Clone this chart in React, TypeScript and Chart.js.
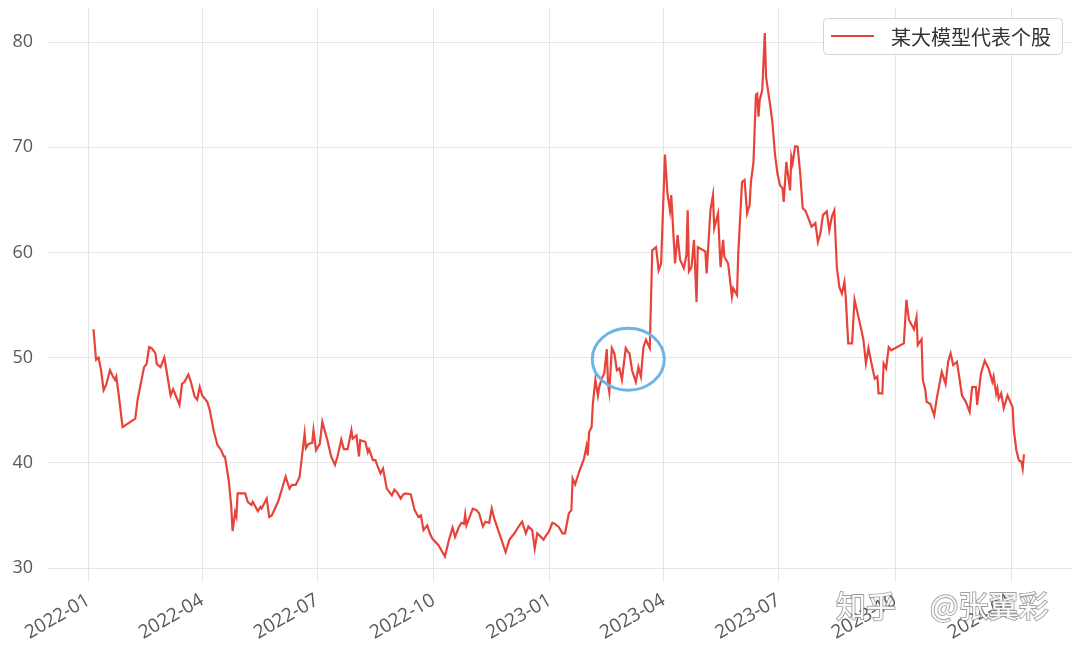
import React, { useEffect, useRef } from 'react';
import { Chart, registerables } from 'chart.js';

Chart.register(...registerables);

const SERIES_NAME = '某大模型代表个股';

const dates: string[] = [
  '2022-01-05','2022-01-07','2022-01-09','2022-01-11','2022-01-13','2022-01-15','2022-01-18','2022-01-20','2022-01-22','2022-01-23','2022-01-25','2022-01-28',
  '2022-02-07','2022-02-09','2022-02-14','2022-02-16','2022-02-18','2022-02-20','2022-02-23','2022-02-24','2022-02-27',
  '2022-03-02','2022-03-03','2022-03-07','2022-03-09','2022-03-14','2022-03-16','2022-03-18','2022-03-21','2022-03-23','2022-03-26','2022-03-28','2022-03-30',
  '2022-04-01','2022-04-05','2022-04-07','2022-04-10','2022-04-13','2022-04-16','2022-04-18','2022-04-19','2022-04-22','2022-04-24','2022-04-25','2022-04-27','2022-04-28','2022-04-29',
  '2022-05-05','2022-05-07','2022-05-10','2022-05-11','2022-05-15','2022-05-17','2022-05-18','2022-05-22','2022-05-24','2022-05-26','2022-05-31',
  '2022-06-06','2022-06-07','2022-06-09','2022-06-11','2022-06-14','2022-06-17','2022-06-21','2022-06-22','2022-06-24','2022-06-27','2022-06-28','2022-06-30',
  '2022-07-03','2022-07-05','2022-07-09','2022-07-12','2022-07-15','2022-07-17','2022-07-20','2022-07-22','2022-07-25','2022-07-28','2022-07-29',
  '2022-08-01','2022-08-03','2022-08-04','2022-08-08','2022-08-10','2022-08-11','2022-08-14','2022-08-16','2022-08-18','2022-08-20','2022-08-22','2022-08-25','2022-08-29','2022-08-31',
  '2022-09-02','2022-09-05','2022-09-07','2022-09-09','2022-09-13','2022-09-16','2022-09-19','2022-09-21','2022-09-23','2022-09-26','2022-09-28','2022-09-30',
  '2022-10-05','2022-10-10','2022-10-13','2022-10-16','2022-10-18','2022-10-21','2022-10-23','2022-10-25','2022-10-26','2022-10-27','2022-10-29',
  '2022-11-01','2022-11-04','2022-11-06','2022-11-09','2022-11-11','2022-11-14','2022-11-16','2022-11-18','2022-11-22','2022-11-27','2022-11-30',
  '2022-12-04','2022-12-07','2022-12-10','2022-12-13','2022-12-15','2022-12-18','2022-12-20','2022-12-22','2022-12-25','2022-12-27','2022-12-29','2022-12-31',
  '2023-01-03','2023-01-05','2023-01-08','2023-01-11','2023-01-13','2023-01-16','2023-01-18','2023-01-19','2023-01-21','2023-01-24','2023-01-28','2023-01-30','2023-01-31',
  '2023-02-01','2023-02-03','2023-02-04','2023-02-06','2023-02-08','2023-02-09','2023-02-11','2023-02-13','2023-02-15','2023-02-16','2023-02-17','2023-02-19','2023-02-21','2023-02-23','2023-02-25','2023-02-27',
  '2023-03-02','2023-03-04','2023-03-05','2023-03-07','2023-03-10','2023-03-12','2023-03-14','2023-03-16','2023-03-18','2023-03-21','2023-03-23','2023-03-26','2023-03-28','2023-03-30',
  '2023-04-02','2023-04-04','2023-04-06','2023-04-07','2023-04-10','2023-04-12','2023-04-14','2023-04-17','2023-04-19','2023-04-20','2023-04-21','2023-04-23','2023-04-25','2023-04-27','2023-04-28',
  '2023-05-04','2023-05-05','2023-05-08','2023-05-10','2023-05-11','2023-05-14','2023-05-16','2023-05-18','2023-05-19','2023-05-22','2023-05-25','2023-05-26','2023-05-29','2023-05-30',
  '2023-06-02','2023-06-04','2023-06-06','2023-06-08','2023-06-09','2023-06-11','2023-06-13','2023-06-14','2023-06-15','2023-06-16','2023-06-18','2023-06-20','2023-06-21','2023-06-24','2023-06-26','2023-06-28','2023-06-30',
  '2023-07-02','2023-07-04','2023-07-05','2023-07-07','2023-07-10','2023-07-11','2023-07-12','2023-07-14','2023-07-16','2023-07-18','2023-07-20','2023-07-22','2023-07-24','2023-07-27','2023-07-30',
  '2023-08-01','2023-08-03','2023-08-05','2023-08-08','2023-08-10','2023-08-12','2023-08-14','2023-08-16','2023-08-18','2023-08-20','2023-08-22','2023-08-23','2023-08-25','2023-08-28','2023-08-30',
  '2023-09-03','2023-09-06','2023-09-08','2023-09-10','2023-09-13','2023-09-15','2023-09-17','2023-09-18','2023-09-21','2023-09-22','2023-09-24','2023-09-26','2023-09-28',
  '2023-10-08','2023-10-10','2023-10-12','2023-10-16','2023-10-18','2023-10-19','2023-10-22','2023-10-23','2023-10-25','2023-10-26','2023-10-29',
  '2023-11-01','2023-11-03','2023-11-07','2023-11-10','2023-11-12','2023-11-14','2023-11-16','2023-11-19','2023-11-23','2023-11-26','2023-11-29',
  '2023-12-01','2023-12-04','2023-12-05','2023-12-08','2023-12-11','2023-12-14','2023-12-17','2023-12-18','2023-12-20','2023-12-21','2023-12-22','2023-12-24','2023-12-26','2023-12-29',
  '2024-01-02','2024-01-03','2024-01-05','2024-01-07','2024-01-09','2024-01-10','2024-01-11',
];

const prices: number[] = [
  52.7, 49.8, 50.0, 48.8, 46.9, 47.4, 48.8, 48.3, 47.9, 48.2, 46.4, 43.4,
  44.2, 46.1, 49.1, 49.4, 51.0, 50.9, 50.4, 49.4, 49.1,
  50.0, 49.3, 46.4, 47.0, 45.5, 47.5, 47.7, 48.4, 47.7, 46.3, 46.0, 47.2,
  46.4, 45.8, 45.0, 43.1, 41.7, 41.2, 40.6, 40.6, 38.3, 35.8, 33.5, 35.3, 34.9, 37.1,
  37.1, 36.3, 36.0, 36.3, 35.4, 35.8, 35.65, 36.6, 34.85, 35.0, 36.3,
  38.7, 38.3, 37.55, 37.9, 37.9, 38.65, 42.8, 41.4, 41.8, 41.9, 43.1, 41.2,
  41.8, 43.9, 42.15, 40.6, 39.8, 40.6, 42.2, 41.3, 41.3, 43.1, 42.3,
  42.6, 40.6, 42.15, 42.0, 41.0, 41.3, 40.25, 40.25, 39.6, 39.0, 39.45, 37.55, 36.9, 37.45,
  37.2, 36.6, 37.0, 37.1, 37.0, 35.5, 34.85, 35.0, 33.6, 34.05, 33.3, 32.8,
  32.15, 31.1, 32.6, 33.85, 32.95, 33.9, 34.3, 34.2, 35.1, 34.05, 34.7,
  35.65, 35.5, 35.2, 33.95, 34.4, 34.3, 35.65, 34.7, 33.3, 31.5, 32.7,
  33.3, 33.9, 34.4, 33.3, 33.95, 33.6, 31.85, 33.3, 32.95, 32.7, 33.1, 33.4,
  34.3, 34.2, 33.9, 33.3, 33.3, 35.2, 35.5, 38.5, 37.95, 39.1, 40.4, 41.6, 40.7,
  42.9, 43.4, 45.6, 47.9, 46.4, 47.2, 48.0, 48.5, 50.8, 47.5, 46.7, 50.9, 50.4, 48.8, 48.97, 47.9,
  50.9, 50.5, 50.4, 48.8, 47.7, 49.1, 48.2, 51.0, 51.7, 50.9, 60.2, 60.5, 58.3, 58.95,
  69.3, 65.6, 64.0, 65.45, 58.95, 61.65, 59.3, 58.5, 59.75, 64.0, 58.2, 58.6, 61.2, 55.3, 60.5,
  60.1, 58.0, 64.0, 65.45, 62.3, 63.7, 58.6, 61.2, 59.6, 58.95, 55.8, 56.6, 55.95, 59.9,
  66.7, 66.9, 63.7, 64.5, 66.7, 68.5, 75.0, 75.1, 72.9, 74.5, 75.45, 80.85, 76.7, 74.2, 72.4, 69.4, 67.5,
  66.4, 66.1, 64.8, 68.6, 65.9, 69.1, 68.5, 70.1, 70.05, 67.5, 64.2, 64.0, 63.4, 62.45, 62.8,
  61.0, 61.8, 63.55, 63.9, 62.1, 63.4, 64.0, 58.6, 56.7, 56.1, 57.2, 55.8, 51.35, 51.35, 55.5,
  53.4, 51.7, 49.45, 50.9, 49.1, 48.0, 48.2, 46.6, 46.6, 49.45, 48.97, 51.0, 50.7,
  51.35, 55.5, 53.6, 52.7, 53.85, 51.2, 51.75, 47.9, 46.9, 45.8, 45.6,
  44.5, 46.1, 48.65, 47.5, 49.6, 50.4, 49.3, 49.6, 46.4, 45.8, 44.85,
  47.2, 47.2, 45.5, 48.5, 49.7, 48.97, 47.7, 48.2, 46.6, 47.07, 46.1, 46.6, 45.2, 46.4,
  45.3, 43.1, 41.2, 40.25, 40.1, 39.45, 40.8,
];

const xTickDates: string[] = ['2022-01-01','2022-04-01','2022-07-01','2022-10-01','2023-01-01','2023-04-01','2023-07-01','2023-10-01','2024-01-01'];
const xTickLabels: string[] = ['2022-01','2022-04','2022-07','2022-10','2023-01','2023-04','2023-07','2023-10','2024-01'];
const yTickValues: number[] = [30, 40, 50, 60, 70, 80];
const xRange: string[] = ['2021-11-30', '2024-02-18'];
const yRange: number[] = [28.67, 83.24];
const highlightDate = '2023-03-04';
const highlightValue = 49.85;
const watermarkParts: string[] = ['知乎', '@张翼彩'];

const toTime = (d: string) => Date.parse(d);

const LINE_COLOR = '#e8433a';
const TICK_COLOR = '#595959';
const GRID_COLOR = '#e6e6e6';
const FONT_FAMILY = '"Open Sans", "Noto Sans", sans-serif';

const overlayPlugin = {
  id: 'overlay',
  afterDatasetsDraw(chart: any) {
    const { ctx, scales } = chart;
    const cx = scales.x.getPixelForValue(toTime(highlightDate));
    const cy = scales.y.getPixelForValue(highlightValue);
    ctx.save();
    ctx.beginPath();
    ctx.ellipse(cx, cy, 36, 31, 0, 0, Math.PI * 2);
    ctx.strokeStyle = '#6db5e6';
    ctx.lineWidth = 3;
    ctx.stroke();
    ctx.restore();
  },
  afterDraw(chart: any) {
    const { ctx, chartArea } = chart;
    ctx.save();
    // legend box
    ctx.font = '20px "Noto Sans CJK SC", sans-serif';
    const tw = ctx.measureText(SERIES_NAME).width;
    const padL = 8, padR = 11, lineLen = 43, gap = 17, h = 36;
    const w = padL + lineLen + gap + tw + padR;
    const right = chartArea.right - 10;
    const top = chartArea.top + 10;
    const left = right - w;
    ctx.beginPath();
    (ctx as any).roundRect(Math.round(left) + 0.5, Math.round(top) + 0.5, Math.round(w), h, 4);
    ctx.fillStyle = 'rgba(255,255,255,0.85)';
    ctx.fill();
    ctx.strokeStyle = '#d4d4d4';
    ctx.lineWidth = 1;
    ctx.stroke();
    ctx.beginPath();
    ctx.moveTo(left + padL, top + h / 2);
    ctx.lineTo(left + padL + lineLen, top + h / 2);
    ctx.strokeStyle = LINE_COLOR;
    ctx.lineWidth = 2;
    ctx.stroke();
    ctx.fillStyle = '#333333';
    ctx.textBaseline = 'middle';
    ctx.textAlign = 'left';
    ctx.fillText(SERIES_NAME, left + padL + lineLen + gap, top + h / 2 + 1);

    // watermark
    ctx.font = '30px "Noto Sans CJK SC", sans-serif';
    ctx.textBaseline = 'middle';
    ctx.lineWidth = 1.8;
    ctx.strokeStyle = 'rgba(120,120,120,0.7)';
    ctx.fillStyle = 'rgba(255,255,255,0.95)';
    const wy = 606;
    ctx.strokeText(watermarkParts[0], 836, wy);
    ctx.fillText(watermarkParts[0], 836, wy);
    ctx.strokeText(watermarkParts[1], 930, wy);
    ctx.fillText(watermarkParts[1], 930, wy);
    ctx.restore();
  },
};

export default function App() {
  const canvasRef = useRef<HTMLCanvasElement | null>(null);

  useEffect(() => {
    document.body.style.margin = '0';
    const canvas = canvasRef.current;
    if (!canvas) return;
    const points = dates.map((d, i) => ({ x: toTime(d), y: prices[i] }));
    const xTickValues = xTickDates.map(toTime);

    const chart = new Chart(canvas, {
      type: 'line',
      data: {
        datasets: [
          {
            label: SERIES_NAME,
            data: points,
            borderColor: LINE_COLOR,
            backgroundColor: LINE_COLOR,
            borderWidth: 2.2,
            pointRadius: 0,
            tension: 0,
            fill: false,
          },
        ],
      },
      options: {
        animation: false,
        responsive: false,
        maintainAspectRatio: false,
        layout: { padding: { top: 8, right: 8, left: 0, bottom: 0 } },
        plugins: {
          legend: { display: false },
          tooltip: { enabled: false },
        },
        scales: {
          x: {
            type: 'linear',
            min: toTime(xRange[0]),
            max: toTime(xRange[1]),
            afterBuildTicks: (scale: any) => {
              scale.ticks = xTickValues.map((v) => ({ value: v }));
            },
            afterFit: (scale: any) => {
              scale.height = 69;
              scale.paddingLeft = 0;
              scale.paddingRight = 0;
            },
            ticks: {
              autoSkip: false,
              maxRotation: 30,
              minRotation: 30,
              padding: 7,
              color: TICK_COLOR,
              font: { family: FONT_FAMILY, size: 19 },
              callback: (v: any) => {
                const i = xTickValues.indexOf(Number(v));
                return i >= 0 ? xTickLabels[i] : '';
              },
            },
            grid: { color: GRID_COLOR, lineWidth: 1, drawTicks: false },
            border: { display: false },
          },
          y: {
            type: 'linear',
            min: yRange[0],
            max: yRange[1],
            afterBuildTicks: (scale: any) => {
              scale.ticks = yTickValues.map((v) => ({ value: v }));
            },
            afterFit: (scale: any) => {
              scale.width = 48;
              scale.paddingTop = 0;
              scale.paddingBottom = 0;
            },
            ticks: {
              padding: 15,
              color: TICK_COLOR,
              font: { family: FONT_FAMILY, size: 18 },
              callback: (v: any) => String(v),
            },
            grid: { color: GRID_COLOR, lineWidth: 1, drawTicks: false },
            border: { display: false },
          },
        },
      },
      plugins: [overlayPlugin],
    } as any);

    return () => {
      chart.destroy();
    };
  }, []);

  return (
    <div style={{ width: 1080, height: 651, position: 'relative', background: '#ffffff' }}>
      <canvas ref={canvasRef} width={1080} height={651} style={{ display: 'block', width: 1080, height: 651 }} />
    </div>
  );
}
